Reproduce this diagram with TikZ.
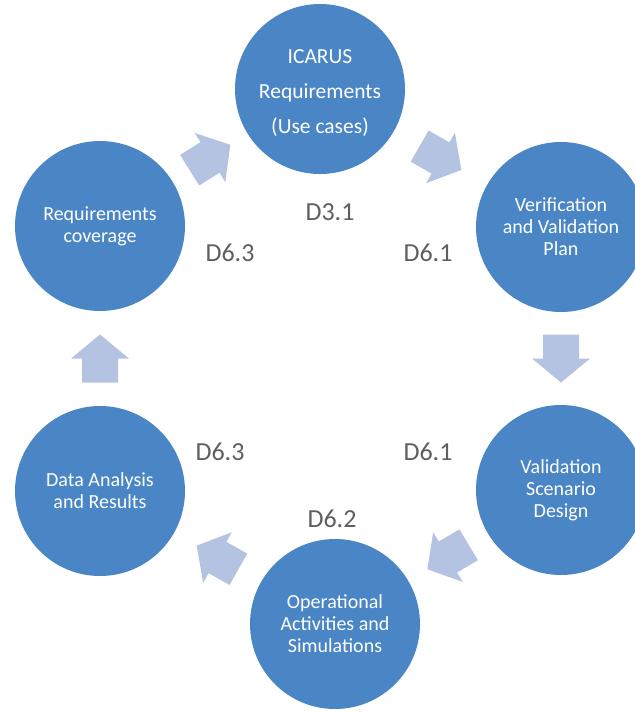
\documentclass[tikz,border=0pt]{standalone}
\usepackage{fontspec}
\setmainfont{Carlito}
\usetikzlibrary{calc}
\definecolor{circblue}{HTML}{4A86C6}
\definecolor{arrblue}{HTML}{B4C3E2}
\definecolor{dgray}{HTML}{5F5F5F}
\tikzset{
 stage/.style={circle, fill=circblue, text=white, minimum size=170pt, inner sep=0pt, align=center, font=\fontsize{20}{22}\selectfont},
 dlabel/.style={text=dgray, font=\fontsize{26}{30}\selectfont, inner sep=0pt},
 pics/blockarr/.style={code={\fill[arrblue] (-24pt,-18pt) -- (0pt,-18pt) -- (0pt,-29pt) -- (24pt,0pt) -- (0pt,29pt) -- (0pt,18pt) -- (-24pt,18pt) -- cycle;}}
}
\begin{document}
\begin{tikzpicture}[x=1pt,y=-1pt]
\useasboundingbox (0,0) rectangle (635,713);
\clip (0,0) rectangle (635,713);
\node[stage] (icarus) at (320,89) {};
\node[text=white, align=center, font=\fontsize{21.5}{35}\selectfont, inner sep=0pt] (icarustext) at (320,93) {ICARUS\\Requirements\\(Use cases)};
\node[stage] (vv) at (561,227) {Verification\\and Validation\\Plan};
\node[stage] (vsd) at (561,490) {Validation\\Scenario\\Design};
\node[stage] (ops) at (335,624) {Operational\\Activities and\\Simulations};
\node[stage] (data) at (100,491) {Data Analysis\\and Results};
\node[stage] (cov) at (100,226) {Requirements\\coverage};
\foreach \a/\b in {cov/icarus, icarus/vv, vv/vsd, vsd/ops, ops/data, data/cov} {
  \path let \p1=($(\b)-(\a)$), \n1={atan2(\y1,\x1)} in pic[rotate=\n1] at ($(\a)!0.5!(\b)$) {blockarr};
}
\node[dlabel] (l31) at (330,212) {D3.1};
\node[dlabel] (l63a) at (230,253) {D6.3};
\node[dlabel] (l61a) at (428,253) {D6.1};
\node[dlabel] (l63b) at (220,452) {D6.3};
\node[dlabel] (l61b) at (428,452) {D6.1};
\node[dlabel] (l62) at (332,519) {D6.2};
\end{tikzpicture}
\end{document}
